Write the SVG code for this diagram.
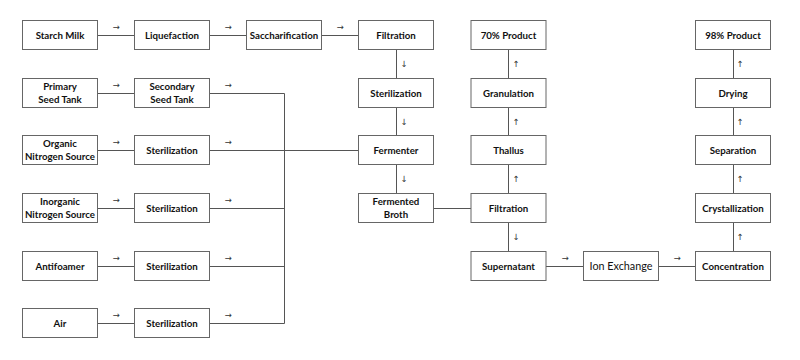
<svg xmlns="http://www.w3.org/2000/svg" width="800" height="360" viewBox="0 0 800 360">
<style>
.b{fill:#fff;stroke:#666;stroke-width:1}
.t{font-family:Lato,"Liberation Sans",sans-serif;font-weight:bold;font-size:9.7px;fill:#111;text-anchor:middle}
.n{font-weight:normal;font-size:10.8px}
.c line,.c polyline{stroke:#555;stroke-width:1;fill:none}
.a{font-family:"DejaVu Sans",sans-serif;font-size:8.5px;fill:#333;text-anchor:middle}
</style>
<rect width="800" height="360" fill="#fff"/>
<g id="connectors" class="c">
<line x1="97.5" y1="35.5" x2="134.5" y2="35.5"/>
<line x1="209.5" y1="35.5" x2="246.5" y2="35.5"/>
<line x1="321.5" y1="35.5" x2="358.5" y2="35.5"/>
<line x1="97.5" y1="93.5" x2="134.5" y2="93.5"/>
<polyline points="209.5,93.5 284.5,93.5 284.5,323.5 209.5,323.5"/>
<line x1="97.5" y1="150.5" x2="134.5" y2="150.5"/>
<line x1="209.5" y1="150.5" x2="358.5" y2="150.5"/>
<line x1="97.5" y1="208.5" x2="134.5" y2="208.5"/>
<line x1="209.5" y1="208.5" x2="284.5" y2="208.5"/>
<line x1="433.5" y1="208.5" x2="471" y2="208.5"/>
<line x1="97.5" y1="266.5" x2="134.5" y2="266.5"/>
<line x1="209.5" y1="266.5" x2="284.5" y2="266.5"/>
<line x1="546" y1="266.5" x2="583.5" y2="266.5"/>
<line x1="658.5" y1="266.5" x2="695.5" y2="266.5"/>
<line x1="97.5" y1="323.5" x2="134.5" y2="323.5"/>
<line x1="396.5" y1="49.5" x2="396.5" y2="78.5"/>
<line x1="396.5" y1="107.5" x2="396.5" y2="135.5"/>
<line x1="396.5" y1="164.5" x2="396.5" y2="193.5"/>
<line x1="508.5" y1="49.5" x2="508.5" y2="78.5"/>
<line x1="508.5" y1="107.5" x2="508.5" y2="135.5"/>
<line x1="508.5" y1="164.5" x2="508.5" y2="193.5"/>
<line x1="508.5" y1="222.5" x2="508.5" y2="251.5"/>
<line x1="733.5" y1="49.5" x2="733.5" y2="78.5"/>
<line x1="733.5" y1="107.5" x2="733.5" y2="135.5"/>
<line x1="733.5" y1="164.5" x2="733.5" y2="193.5"/>
<line x1="733.5" y1="222.5" x2="733.5" y2="251.5"/>
<g class="a">
<text x="116" y="30">→</text><text x="228" y="30">→</text><text x="340" y="30">→</text>
<text x="116" y="88">→</text><text x="228" y="88">→</text>
<text x="116" y="145">→</text><text x="228" y="145">→</text>
<text x="116" y="203">→</text><text x="228" y="203">→</text>
<text x="116" y="261">→</text><text x="228" y="261">→</text>
<text x="116" y="318">→</text><text x="228" y="318">→</text>
<text x="565" y="261">→</text><text x="677" y="261">→</text>
<text x="404" y="67">↓</text><text x="404" y="125">↓</text><text x="404" y="182">↓</text>
<text x="516" y="240">↓</text>
<text x="516" y="67">↑</text><text x="516" y="125">↑</text><text x="516" y="182">↑</text>
<text x="740" y="67">↑</text><text x="740" y="125">↑</text><text x="740" y="182">↑</text><text x="740" y="240">↑</text>
</g>
</g>
<g id="starch-milk"><rect class="b" x="22.5" y="20.5" width="75" height="29"/><text class="t" x="60" y="38.5">Starch Milk</text></g>
<g id="liquefaction"><rect class="b" x="134.5" y="20.5" width="75" height="29"/><text class="t" x="172" y="38.5">Liquefaction</text></g>
<g id="saccharification"><rect class="b" x="246.5" y="20.5" width="75" height="29"/><text class="t" x="284" y="38.5">Saccharification</text></g>
<g id="filtration-1"><rect class="b" x="358.5" y="20.5" width="75" height="29"/><text class="t" x="396" y="38.5">Filtration</text></g>
<g id="product-70"><rect class="b" x="471" y="20.5" width="75" height="29"/><text class="t" x="508.5" y="38.5">70% Product</text></g>
<g id="product-98"><rect class="b" x="695.5" y="20.5" width="75" height="29"/><text class="t" x="733" y="38.5">98% Product</text></g>

<g id="primary-seed-tank"><rect class="b" x="22.5" y="78.5" width="75" height="29"/><text class="t" x="60" y="89.5">Primary</text><text class="t" x="60" y="102.5">Seed Tank</text></g>
<g id="secondary-seed-tank"><rect class="b" x="134.5" y="78.5" width="75" height="29"/><text class="t" x="172" y="89.5">Secondary</text><text class="t" x="172" y="102.5">Seed Tank</text></g>
<g id="sterilization-main"><rect class="b" x="358.5" y="78.5" width="75" height="29"/><text class="t" x="396" y="96.5">Sterilization</text></g>
<g id="granulation"><rect class="b" x="471" y="78.5" width="75" height="29"/><text class="t" x="508.5" y="96.5">Granulation</text></g>
<g id="drying"><rect class="b" x="695.5" y="78.5" width="75" height="29"/><text class="t" x="733" y="96.5">Drying</text></g>

<g id="organic-nitrogen"><rect class="b" x="22.5" y="135.5" width="75" height="29"/><text class="t" x="60" y="146.5">Organic</text><text class="t" x="60" y="159.5">Nitrogen Source</text></g>
<g id="sterilization-organic"><rect class="b" x="134.5" y="135.5" width="75" height="29"/><text class="t" x="172" y="153.5">Sterilization</text></g>
<g id="fermenter"><rect class="b" x="358.5" y="135.5" width="75" height="29"/><text class="t" x="396" y="153.5">Fermenter</text></g>
<g id="thallus"><rect class="b" x="471" y="135.5" width="75" height="29"/><text class="t" x="508.5" y="153.5">Thallus</text></g>
<g id="separation"><rect class="b" x="695.5" y="135.5" width="75" height="29"/><text class="t" x="733" y="153.5">Separation</text></g>

<g id="inorganic-nitrogen"><rect class="b" x="22.5" y="193.5" width="75" height="29"/><text class="t" x="60" y="204.5">Inorganic</text><text class="t" x="60" y="217.5">Nitrogen Source</text></g>
<g id="sterilization-inorganic"><rect class="b" x="134.5" y="193.5" width="75" height="29"/><text class="t" x="172" y="211.5">Sterilization</text></g>
<g id="fermented-broth"><rect class="b" x="358.5" y="193.5" width="75" height="29"/><text class="t" x="396" y="204.5">Fermented</text><text class="t" x="396" y="217.5">Broth</text></g>
<g id="filtration-2"><rect class="b" x="471" y="193.5" width="75" height="29"/><text class="t" x="508.5" y="211.5">Filtration</text></g>
<g id="crystallization"><rect class="b" x="695.5" y="193.5" width="75" height="29"/><text class="t" x="733" y="211.5">Crystallization</text></g>

<g id="antifoamer"><rect class="b" x="22.5" y="251.5" width="75" height="29"/><text class="t" x="60" y="269.5">Antifoamer</text></g>
<g id="sterilization-antifoamer"><rect class="b" x="134.5" y="251.5" width="75" height="29"/><text class="t" x="172" y="269.5">Sterilization</text></g>
<g id="supernatant"><rect class="b" x="471" y="251.5" width="75" height="29"/><text class="t" x="508.5" y="269.5">Supernatant</text></g>
<g id="ion-exchange"><rect class="b" x="583.5" y="251.5" width="75" height="29"/><text class="t n" x="621" y="269.5">Ion Exchange</text></g>
<g id="concentration"><rect class="b" x="695.5" y="251.5" width="75" height="29"/><text class="t" x="733" y="269.5">Concentration</text></g>

<g id="air"><rect class="b" x="22.5" y="308.5" width="75" height="29"/><text class="t" x="60" y="326.5">Air</text></g>
<g id="sterilization-air"><rect class="b" x="134.5" y="308.5" width="75" height="29"/><text class="t" x="172" y="326.5">Sterilization</text></g>
</svg>
